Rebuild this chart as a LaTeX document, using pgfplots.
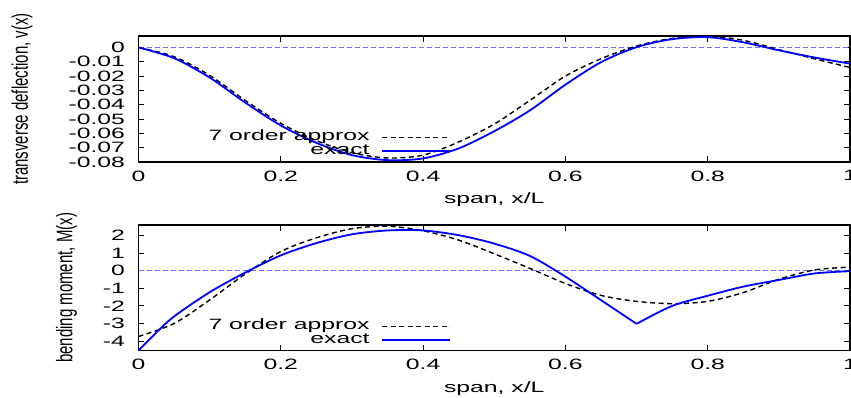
\documentclass[border=0pt]{standalone}
\usepackage{fontspec}
\setmainfont{Liberation Sans}[FakeStretch=1.65]
\newfontfamily\labfont{Liberation Sans}
\usepackage{graphicx}
\usepackage{pgfplots}
\pgfplotsset{compat=1.18}
\newcommand\tl[1]{\mbox{#1}}
\definecolor{zline}{RGB}{110,110,255}
\definecolor{exblue}{RGB}{0,0,255}
\pgfplotsset{
  gp/.style={
    scale only axis, width=711.5pt,
    xmin=0, xmax=1,
    scaled ticks=false,
    xtick={0,0.2,0.4,0.6,0.8,1},
    xticklabels={\tl{0},\tl{0.2},\tl{0.4},\tl{0.6},\tl{0.8},\tl{1}},
    tick align=inside, major tick length=6pt,
    axis line style={line width=1.1pt},
    every tick/.style={line width=0.9pt, black},
    tick label style={font=\fontsize{15pt}{18pt}\selectfont},
    xticklabel style={yshift=-5pt},
    yticklabel style={xshift=-10pt},
    label style={font=\fontsize{15pt}{18pt}\selectfont},
    xlabel={span, x/L},
    xlabel style={at={(axis description cs:0.5,0)}, anchor=base, yshift=-41.5pt},
    legend plot pos=right,
    legend style={draw=none, fill=none, font=\fontsize{15pt}{18pt}\selectfont,
      row sep=0pt, column sep=11pt, inner sep=0pt,
      nodes={inner sep=1pt, text height=9.2pt, text depth=2.3pt}},
    legend cell align=right,
    legend image code/.code={\draw[#1] (0pt,0pt) -- (68pt,0pt);},
  },
  apx/.style={black, line width=1.4pt, dash pattern=on 5pt off 3.5pt},
  exa/.style={exblue, line width=1.8pt},
  zer/.style={zline, line width=0.8pt, dash pattern=on 5pt off 3pt},
}
\begin{document}
\begin{tikzpicture}
\useasboundingbox (0pt,0pt) rectangle (851pt,397pt);
\begin{axis}[gp, at={(138.5pt,235pt)}, anchor=south west, height=126pt,
  ymin=-0.08, ymax=0.008,
  ytick={-0.08,-0.07,-0.06,-0.05,-0.04,-0.03,-0.02,-0.01,0},
  yticklabels={\tl{-0.08},\tl{-0.07},\tl{-0.06},\tl{-0.05},\tl{-0.04},\tl{-0.03},\tl{-0.02},\tl{-0.01},\tl{0}},
  ylabel={\labfont\scalebox{1}[1.5]{transverse deflection, v(x)}},
  ylabel style={at={(axis description cs:-0.1637,0.5)}, anchor=center},
  legend style={at={(axis description cs:0.44,0.25)}, anchor=north east},
]
\addplot[zer, forget plot] coordinates {(0,0) (1,0)};
\addplot[apx, smooth] coordinates {
(0,0) (0.05,-0.0064) (0.10,-0.0195) (0.15,-0.037) (0.20,-0.053)
(0.25,-0.065) (0.30,-0.0735) (0.35,-0.0772) (0.40,-0.0752) (0.45,-0.066)
(0.50,-0.0535) (0.55,-0.037) (0.60,-0.020) (0.65,-0.0079) (0.70,0.001)
(0.75,0.0063) (0.80,0.0079) (0.85,0.0050) (0.90,-0.0015) (0.95,-0.0079)
(1.0,-0.014)};
\addlegendentry{7 order approx}
\addplot[exa, smooth] coordinates {
(0,0) (0.05,-0.0075) (0.10,-0.021) (0.15,-0.0385) (0.20,-0.0545)
(0.25,-0.0666) (0.30,-0.0752) (0.35,-0.0787) (0.40,-0.0775) (0.45,-0.0705)
(0.50,-0.0585) (0.55,-0.044) (0.60,-0.026) (0.65,-0.0103) (0.70,0.0002)
(0.75,0.0058) (0.80,0.0072) (0.85,0.0036) (0.90,-0.002) (0.95,-0.007)
(1.0,-0.0113)};
\addlegendentry{exact}
\end{axis}
\begin{axis}[gp, at={(138.5pt,46.3pt)}, anchor=south west, height=125.7pt,
  ymin=-4.55, ymax=2.61,
  ytick={-4,-3,-2,-1,0,1,2},
  yticklabels={\tl{-4},\tl{-3},\tl{-2},\tl{-1},\tl{0},\tl{1},\tl{2}},
  ylabel={\labfont\scalebox{1}[1.5]{bending moment, M(x)}},
  ylabel style={at={(axis description cs:-0.1012,0.5)}, anchor=center},
  legend style={at={(axis description cs:0.44,0.25)}, anchor=north east},
]
\addplot[zer, forget plot] coordinates {(0,0) (1,0)};
\addplot[apx, smooth] coordinates {
(0,-3.74) (0.05,-3.00) (0.10,-1.66) (0.15,-0.18) (0.20,1.10)
(0.25,1.88) (0.30,2.40) (0.35,2.54) (0.40,2.28) (0.45,1.75)
(0.50,0.97) (0.55,0.14) (0.60,-0.72) (0.65,-1.40) (0.70,-1.74)
(0.75,-1.87) (0.80,-1.74) (0.85,-1.24) (0.90,-0.48) (0.95,0.05)
(1.0,0.21)};
\addlegendentry{7 order approx}
\addplot[exa, smooth] coordinates {
(0,-4.54) (0.025,-3.52) (0.05,-2.60) (0.10,-1.22) (0.15,-0.10) (0.20,0.88)
(0.25,1.58) (0.30,2.08) (0.35,2.30) (0.40,2.30) (0.45,2.03)
(0.50,1.55) (0.55,0.85) (0.60,-0.33) (0.65,-1.67) (0.70,-3.02)};
\addlegendentry{exact}
\addplot[exa, smooth, forget plot] coordinates {
(0.70,-3.02) (0.75,-2.00) (0.80,-1.42) (0.85,-0.90) (0.90,-0.52)
(0.95,-0.15) (1.0,-0.02)};
\end{axis}
\end{tikzpicture}
\end{document}
